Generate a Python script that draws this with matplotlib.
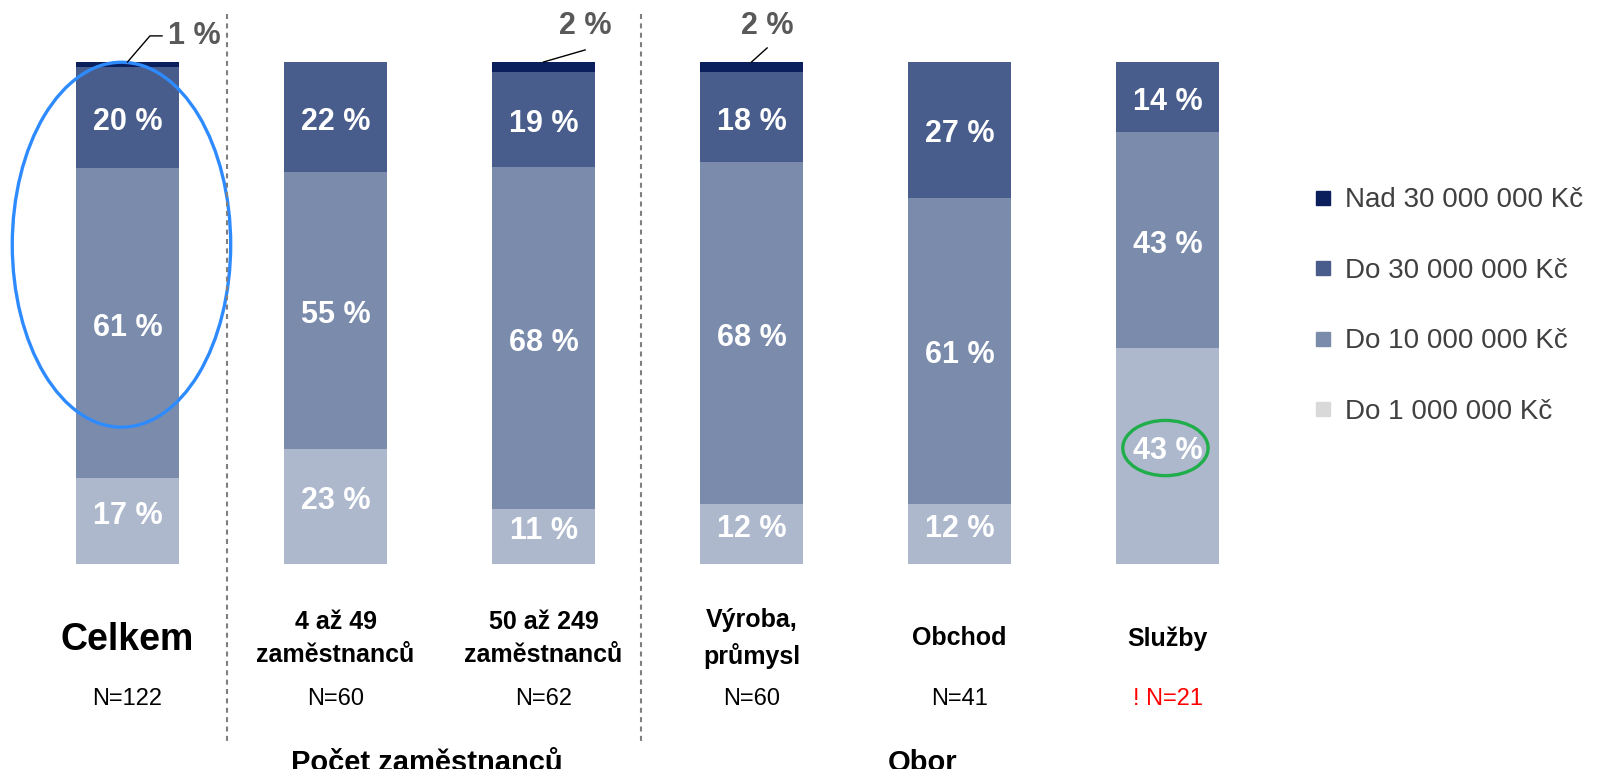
import numpy as np
import matplotlib
matplotlib.use("Agg")
import matplotlib.pyplot as plt
from matplotlib.lines import Line2D
from matplotlib.patches import Ellipse

plt.rcParams['font.family'] = ['Liberation Sans', 'DejaVu Sans']

# data
categories = ["Celkem", "4 až 49\nzaměstnanců", "50 až 249\nzaměstnanců",
              "Výroba,\nprůmysl", "Obchod", "Služby"]
n_labels = ["N=122", "N=60", "N=62", "N=60", "N=41", "! N=21"]
series = ["Do 1 000 000 Kč", "Do 10 000 000 Kč", "Do 30 000 000 Kč", "Nad 30 000 000 Kč"]
do_1m = [17, 23, 11, 12, 12, 43]
do_10m = [61, 55, 68, 68, 61, 43]
do_30m = [20, 22, 19, 18, 27, 14]
nad_30m = [1, 0, 2, 2, 0, 0]

colors = ["#adb8cd", "#7a8bab", "#485d8b", "#0b1f5c"]
legend_colors = ["#d9d9d9", "#7a8bab", "#485d8b", "#0b1f5c"]

vals = np.array([do_1m, do_10m, do_30m, nad_30m], dtype=float)
shares = vals / vals.sum(axis=0) * 100  # 100% stacked

fig = plt.figure(figsize=(16.01, 7.69), dpi=100)
ax = fig.add_axes([0, 0, 1, 1])
x = np.arange(len(categories))
ax.set_xlim(-0.613, 7.084)
ax.set_ylim(-40.84, 112.35)
ax.axis('off')

bottom = np.zeros(len(categories))
for k in range(4):
    ax.bar(x, shares[k], 0.495, bottom=bottom, color=colors[k], linewidth=0)
    # bottom labels sit a bit higher in the original
    dy = 1.0 if k == 0 else -0.9
    for i in range(len(categories)):
        if vals[k, i] >= 5:
            ax.text(x[i], bottom[i] + shares[k, i] / 2 + dy, "%d %%" % vals[k, i],
                    ha='center', va='center', color='white', fontsize=22, fontweight='bold')
    bottom += shares[k]

# callouts for small top segments
def callout(i, pts, tx, ty):
    xs = [x[i] + p[0] for p in pts]
    ys = [p[1] for p in pts]
    ax.plot(xs, ys, color='black', lw=1)
    ax.text(tx, ty, "%d %%" % nad_30m[i], ha='center', va='center',
            color='#595959', fontsize=22, fontweight='bold')

callout(0, [(0, 100), (0.108, 105.2), (0.166, 105.2)], 0.32, 105.2)
callout(2, [(0, 100), (0.2, 102.4)], 2.2, 107.2)
callout(3, [(0, 100), (0.075, 102.8)], 3.075, 107.2)

# separators
for sx in [0.48, 2.47]:
    ax.plot([sx, sx], [109.6, -36], color='#7f7f7f', lw=1.5, ls=(0, (2.4, 2.1)))

# category and N labels
for i, c in enumerate(categories):
    if i == 0:
        ax.text(x[i], -15.1, c, ha='center', va='center', fontsize=27, fontweight='bold')
    else:
        ax.text(x[i], -14.8, c, ha='center', va='center', fontsize=18, fontweight='bold',
                linespacing=1.5)
    ax.text(x[i], -26.8, n_labels[i], ha='center', va='center', fontsize=17,
            color='red' if n_labels[i].startswith('!') else 'black')

ax.text(1.44, -36.8, "Počet zaměstnanců", ha='center', va='top', fontsize=21, fontweight='bold')
ax.text(3.82, -36.8, "Obor", ha='center', va='top', fontsize=21, fontweight='bold')

# highlight ellipses
ax.add_patch(Ellipse((-0.029, 63.6), 1.05, 72.7, fill=False, ec='#2e8bff', lw=2.4))
ax.add_patch(Ellipse((4.99, 23.1), 0.41, 11.0, fill=False, ec='#1fae4a', lw=2.4))

# legend
handles = [Line2D([], [], ls='none', marker='s', markersize=10, color=legend_colors[k])
           for k in [3, 2, 1, 0]]
labels = [series[k] for k in [3, 2, 1, 0]]
fig.legend(handles, labels, loc='center left', bbox_to_anchor=(0.802, 0.602), frameon=False,
           fontsize=20, labelspacing=1.6, handletextpad=0.3, handlelength=1.0,
           labelcolor='#404040')

fig.savefig("out.png", dpi=100)
